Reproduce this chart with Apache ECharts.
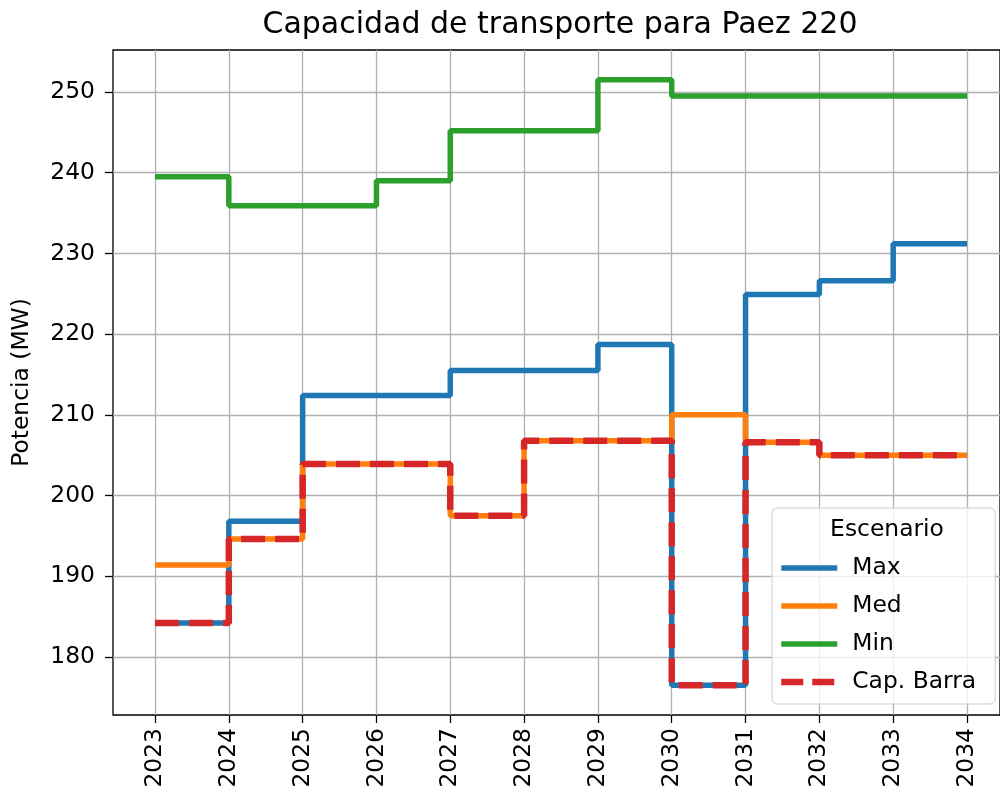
<!DOCTYPE html>
<html>
<head>
<meta charset="utf-8">
<script src="https://cdn.jsdelivr.net/npm/echarts@6/dist/echarts.min.js"></script>
<style>
  html, body { margin: 0; padding: 0; background: #fff; }
  #chart { width: 1000px; height: 802px; }
</style>
</head>
<body>
<div id="chart"></div>
<script>
const years = [2023, 2024, 2025, 2026, 2027, 2028, 2029, 2030, 2031, 2032, 2033, 2034];
const maxVals = [184.2, 196.8, 212.4, 212.4, 215.5, 215.5, 218.7, 176.5, 224.9, 226.6, 231.2, 231.2];
const medVals = [191.4, 194.6, 203.9, 203.9, 197.5, 206.8, 206.8, 210.0, 206.6, 205.0, 205.0, 205.0];
const minVals = [239.5, 235.9, 235.9, 239.0, 245.2, 245.2, 251.5, 249.5, 249.5, 249.5, 249.5, 249.5];
const capVals = [184.2, 194.6, 203.9, 203.9, 197.5, 206.8, 206.8, 176.5, 206.6, 205.0, 205.0, 205.0];

const font = 'DejaVu Sans';

function pairs(vals) {
  return years.map((y, i) => [y, vals[i]]);
}

const chart = echarts.init(document.getElementById('chart'));

const stepLine = {
  type: 'line',
  step: 'end',
  symbol: 'none',
  xAxisIndex: 2,
  yAxisIndex: 2,
  clip: false,
  animation: false,
};

chart.setOption({
  backgroundColor: '#fff',
  animation: false,
  textStyle: { fontFamily: font },
  title: [
    {
      text: 'Capacidad de transporte para Paez 220',
      left: 555,
      top: 5,
      textAlign: 'center',
      textStyle: { fontFamily: font, fontSize: 30, fontWeight: 'normal', color: '#000' },
    },
    {
      text: 'Escenario',
      left: 882,
      top: 513,
      textAlign: 'center',
      textStyle: { fontFamily: font, fontSize: 23.4, fontWeight: 'normal', color: '#000' },
    },
  ],
  legend: {
    orient: 'vertical',
    left: 772,
    top: 508,
    padding: [47, 19, 9, 6],
    itemWidth: 56,
    itemHeight: 14,
    itemGap: 12,
    backgroundColor: 'rgba(255,255,255,0.8)',
    borderColor: '#cccccc',
    borderWidth: 1,
    borderRadius: 5,
    itemStyle: { opacity: 0 },
    textStyle: { fontFamily: font, fontSize: 23.4, color: '#000', lineHeight: 26, padding: [0, 0, 0, 10] },
    data: [
      { name: 'Max', lineStyle: { width: 5.5 } },
      { name: 'Med', lineStyle: { width: 5.5 } },
      { name: 'Min', lineStyle: { width: 5.5 } },
      { name: 'Cap. Barra', lineStyle: { width: 6.5, type: [22, 9] } },
    ],
  },
  grid: [
    { left: 113, top: 50, width: 894, height: 665, show: true, borderColor: '#000', borderWidth: 1.3, backgroundColor: 'transparent' },
    { left: 113, top: 92, width: 894, height: 565 },
    { left: 155, top: 50, width: 812, height: 665 },
  ],
  xAxis: [
    { gridIndex: 0, type: 'value', min: 0, max: 1, show: false },
    { gridIndex: 1, type: 'value', min: 0, max: 1, show: false },
    {
      gridIndex: 2,
      type: 'value',
      min: 2023,
      max: 2034,
      interval: 1,
      axisLine: { show: false },
      axisTick: { show: true, length: 8, lineStyle: { color: '#000', width: 1.3 } },
      axisLabel: {
        rotate: 90,
        margin: 13,
        fontFamily: font,
        fontSize: 23.4,
        color: '#000',
        formatter: (v) => String(v),
      },
      splitLine: { show: true, lineStyle: { color: '#b0b0b0', width: 1.3 } },
    },
  ],
  yAxis: [
    {
      gridIndex: 0,
      type: 'value',
      min: 0,
      max: 1,
      name: 'Potencia (MW)',
      nameLocation: 'middle',
      nameGap: 80,
      nameTextStyle: { fontFamily: font, fontSize: 23.4, color: '#000' },
      axisLine: { show: false },
      axisTick: { show: false },
      axisLabel: { show: false },
      splitLine: { show: false },
    },
    {
      gridIndex: 1,
      type: 'value',
      min: 180,
      max: 250,
      interval: 10,
      axisLine: { show: false },
      axisTick: { show: true, length: 8, lineStyle: { color: '#000', width: 1.3 } },
      axisLabel: { margin: 18, fontFamily: font, fontSize: 23.4, color: '#000' },
      splitLine: { show: true, lineStyle: { color: '#b0b0b0', width: 1.3 } },
    },
    { gridIndex: 2, type: 'value', min: 172.81, max: 255.2, show: false },
  ],
  series: [
    { ...stepLine, name: 'Max', data: pairs(maxVals), color: '#1f77b4', lineStyle: { color: '#1f77b4', width: 5.5 } },
    { ...stepLine, name: 'Med', data: pairs(medVals), color: '#ff7f0e', lineStyle: { color: '#ff7f0e', width: 5.5 } },
    { ...stepLine, name: 'Min', data: pairs(minVals), color: '#2ca02c', lineStyle: { color: '#2ca02c', width: 5.5 } },
    {
      ...stepLine,
      name: 'Cap. Barra',
      data: pairs(capVals),
      color: '#d62728',
      lineStyle: { color: '#d62728', width: 6.5, type: [24, 10] },
    },
  ],
});
</script>
</body>
</html>
